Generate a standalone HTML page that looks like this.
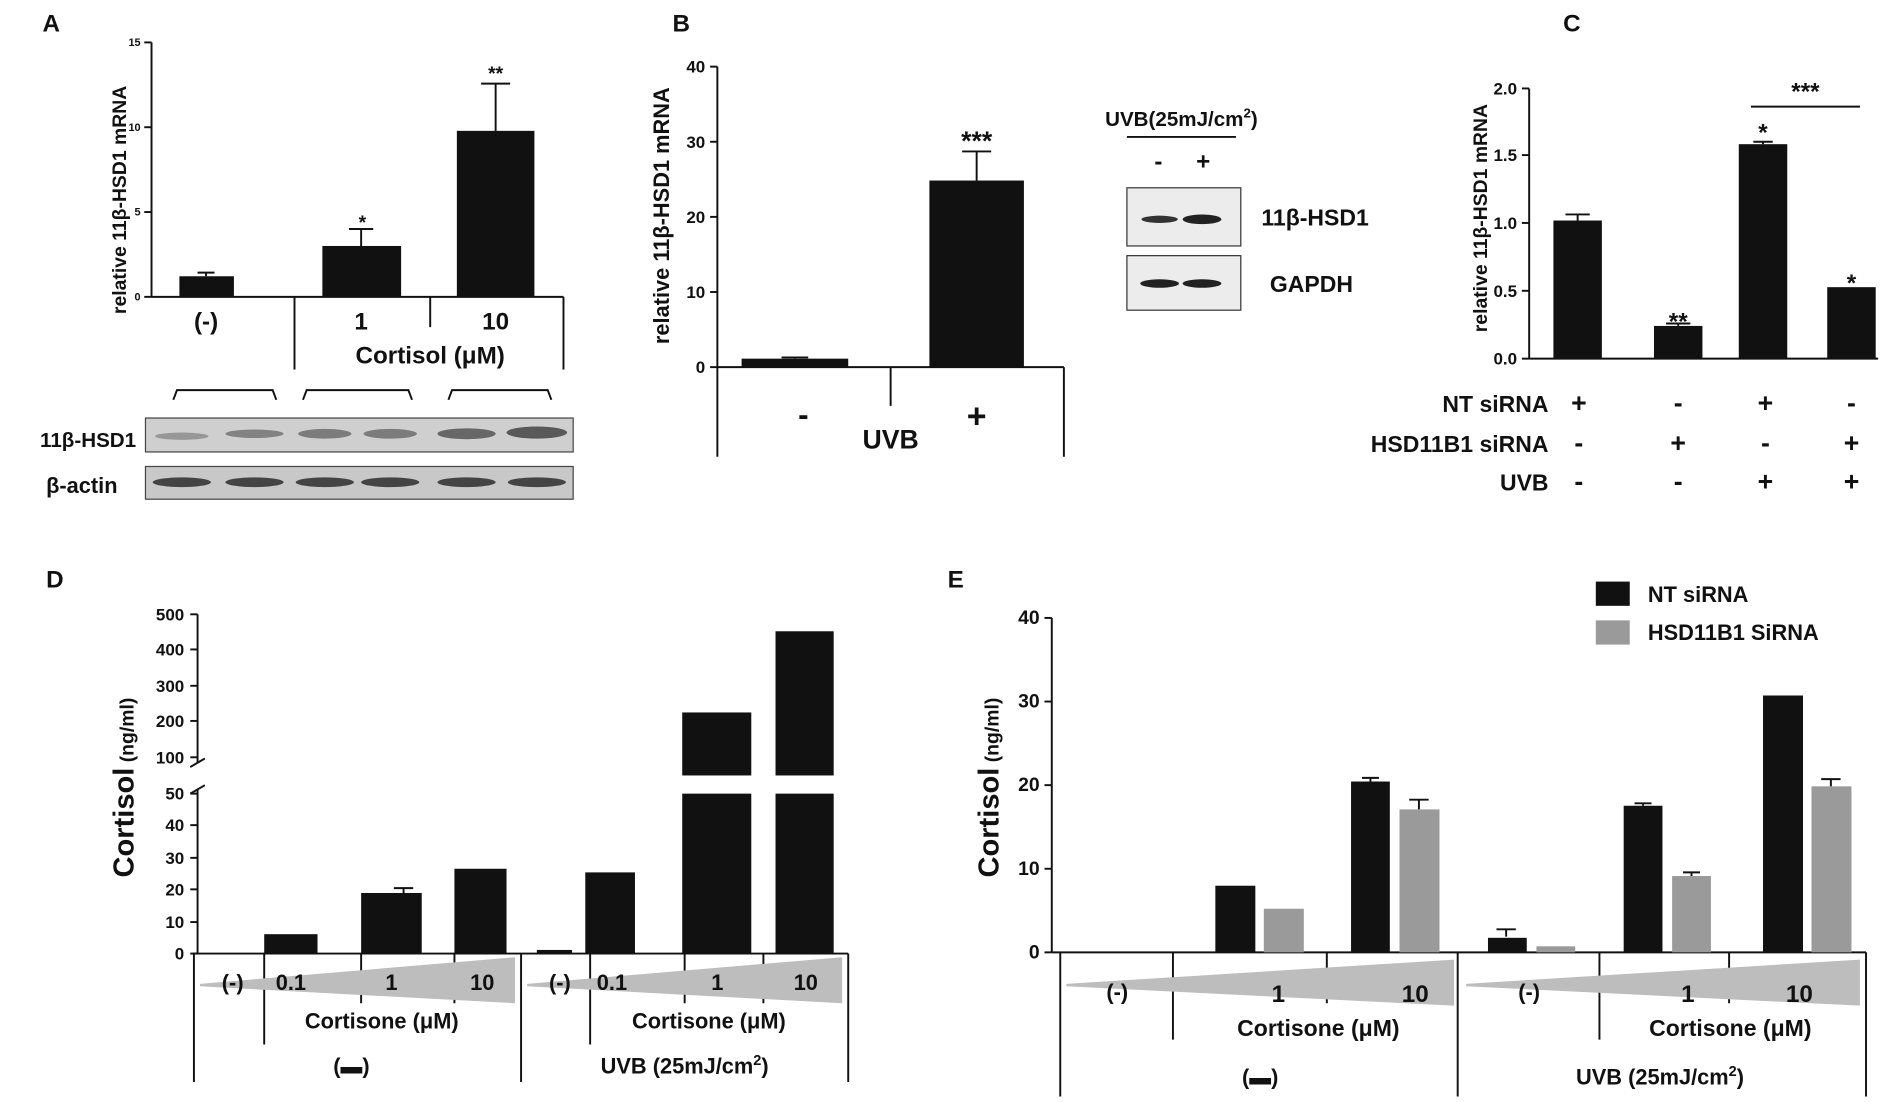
<!DOCTYPE html>
<html><head><meta charset="utf-8"><style>
html,body{margin:0;padding:0;background:#fff}
svg{display:block}
text{font-family:"Liberation Sans",Arial,sans-serif;font-weight:bold;fill:#111}
</style></head><body>
<svg width="1900" height="1102" viewBox="0 0 1568 909.5" xmlns="http://www.w3.org/2000/svg">
<g stroke="#111" stroke-width="1.6" fill="none">
<line x1="125" y1="35" x2="125" y2="245"/><line x1="125" y1="245" x2="465" y2="245"/>
<line x1="119" y1="35" x2="125" y2="35"/><line x1="119" y1="105" x2="125" y2="105"/><line x1="119" y1="175" x2="125" y2="175"/><line x1="119" y1="245" x2="125" y2="245"/>
<line x1="243" y1="245" x2="243" y2="305"/><line x1="355" y1="245" x2="355" y2="270"/><line x1="465" y1="245" x2="465" y2="305"/>
<path d="M143 330 L146 322 L225 322 L228 330"/><path d="M250 330 L253 322 L337 322 L340 330"/><path d="M370 330 L373 322 L452 322 L455 330"/>
<line x1="592" y1="55" x2="592" y2="377"/><line x1="592" y1="303" x2="878" y2="303"/><line x1="878" y1="303" x2="878" y2="377"/><line x1="735" y1="303" x2="735" y2="335"/>
<line x1="586" y1="55" x2="592" y2="55"/><line x1="586" y1="117" x2="592" y2="117"/><line x1="586" y1="179" x2="592" y2="179"/><line x1="586" y1="241" x2="592" y2="241"/><line x1="586" y1="303" x2="592" y2="303"/>
<line x1="930" y1="113" x2="1020" y2="113"/>
<line x1="1262" y1="73" x2="1262" y2="296"/><line x1="1262" y1="296" x2="1550" y2="296"/>
<line x1="1256" y1="73" x2="1262" y2="73"/><line x1="1256" y1="128" x2="1262" y2="128"/><line x1="1256" y1="184" x2="1262" y2="184"/><line x1="1256" y1="240" x2="1262" y2="240"/><line x1="1256" y1="296" x2="1262" y2="296"/>
<line x1="1445" y1="88" x2="1535" y2="88"/>
<line x1="163" y1="787" x2="163" y2="652"/><line x1="163" y1="630" x2="163" y2="507"/>
<line x1="157" y1="655" x2="169" y2="648"/><line x1="157" y1="633" x2="169" y2="626"/>
<line x1="160" y1="787" x2="700" y2="787"/>
<g>
<line x1="157" y1="787" x2="163" y2="787"/><line x1="157" y1="761" x2="163" y2="761"/><line x1="157" y1="734" x2="163" y2="734"/><line x1="157" y1="708" x2="163" y2="708"/><line x1="157" y1="681" x2="163" y2="681"/><line x1="157" y1="655" x2="163" y2="655"/>
<line x1="157" y1="625" x2="163" y2="625"/><line x1="157" y1="595" x2="163" y2="595"/><line x1="157" y1="566" x2="163" y2="566"/><line x1="157" y1="536" x2="163" y2="536"/><line x1="157" y1="507" x2="163" y2="507"/>
</g>
<line x1="160" y1="787" x2="160" y2="893"/><line x1="430" y1="787" x2="430" y2="893"/><line x1="700" y1="787" x2="700" y2="893"/>
<line x1="218" y1="787" x2="218" y2="862"/><line x1="298" y1="787" x2="298" y2="828"/><line x1="375" y1="787" x2="375" y2="828"/>
<line x1="487" y1="787" x2="487" y2="862"/><line x1="565" y1="787" x2="565" y2="828"/><line x1="630" y1="787" x2="630" y2="828"/>
<line x1="868" y1="510" x2="868" y2="786"/><line x1="868" y1="786" x2="1540" y2="786"/>
<line x1="862" y1="510" x2="868" y2="510"/><line x1="862" y1="579" x2="868" y2="579"/><line x1="862" y1="648" x2="868" y2="648"/><line x1="862" y1="717" x2="868" y2="717"/><line x1="862" y1="786" x2="868" y2="786"/>
<line x1="875" y1="786" x2="875" y2="905"/><line x1="1203" y1="786" x2="1203" y2="905"/><line x1="1540" y1="786" x2="1540" y2="905"/>
<line x1="968" y1="786" x2="968" y2="858"/><line x1="1095" y1="786" x2="1095" y2="828"/>
<line x1="1320" y1="786" x2="1320" y2="858"/><line x1="1427" y1="786" x2="1427" y2="828"/>
<path d="M170 228V225M163 225H177"/>
<path d="M298 203V189M288 189H308"/>
<path d="M409 108V69M397 69H421"/>
<path d="M656 296V295M645 295H667"/>
<path d="M806 149V125M794 125H818"/>
<path d="M1302 182V177M1292 177H1312"/>
<path d="M1385 269V267M1375 267H1395"/>
<path d="M1455 119V117M1447 117H1463"/>
<path d="M333 737V733M325 733H341"/>
<path d="M1243 773V767M1235 767H1251"/>
<path d="M1171 668V660M1163 660H1179"/>
<path d="M1511 649V643M1503 643H1519"/>
<path d="M1131 645V642M1124 642H1138"/>
<path d="M1396 723V720M1389 720H1403"/>
<path d="M1356 665V663M1349 663H1363"/>
</g>
<g fill="#111">
<rect x="148" y="228" width="45" height="17"/><rect x="266" y="203" width="65" height="42"/><rect x="377" y="108" width="64" height="137"/>
<rect x="612" y="296" width="88" height="7"/><rect x="767" y="149" width="78" height="154"/>
<rect x="1282" y="182" width="40" height="114"/><rect x="1365" y="269" width="40" height="27"/><rect x="1435" y="119" width="40" height="177"/><rect x="1508" y="237" width="40" height="59"/>
<rect x="218" y="771" width="44" height="16"/><rect x="298" y="737" width="50" height="50"/><rect x="375" y="717" width="43" height="70"/>
<rect x="443" y="784" width="29" height="3"/><rect x="483" y="720" width="41" height="67"/>
<rect x="563" y="655" width="57" height="132"/><rect x="563" y="588" width="57" height="52"/>
<rect x="640" y="655" width="48" height="132"/><rect x="640" y="521" width="48" height="119"/>
<rect x="1003" y="731" width="33" height="55"/><rect x="1115" y="645" width="32" height="141"/>
<rect x="1228" y="774" width="32" height="12"/><rect x="1340" y="665" width="32" height="121"/><rect x="1455" y="574" width="33" height="212"/>
<rect x="1317" y="480" width="28" height="20"/>
</g>
<g fill="#9a9a9a">
<rect x="1043" y="750" width="33" height="36"/><rect x="1155" y="668" width="33" height="118"/>
<rect x="1268" y="781" width="32" height="5"/><rect x="1380" y="723" width="32" height="63"/><rect x="1495" y="649" width="33" height="137"/>
<rect x="1317" y="512" width="28" height="20"/>
</g>
<g fill="#bdbdbd">
<polygon points="165,812 425,790 425,828 165,814"/>
<polygon points="435,812 695,790 695,828 435,814"/>
<polygon points="880,812 1200,792 1200,830 880,814"/>
<polygon points="1210,812 1535,792 1535,830 1210,814"/>
</g>
<rect x="120" y="345" width="353" height="28" fill="#cfcfcf" stroke="#444"/>
<rect x="120" y="385" width="353" height="27" fill="#c8c8c8" stroke="#444"/>
<g fill="#444">
<ellipse cx="150" cy="360" rx="22" ry="3" opacity=".4"/><ellipse cx="210" cy="358" rx="24" ry="3.5" opacity=".55"/>
<ellipse cx="268" cy="358" rx="22" ry="4" opacity=".6"/><ellipse cx="322" cy="358" rx="22" ry="4" opacity=".6"/>
<ellipse cx="385" cy="358" rx="24" ry="4.5" opacity=".75"/><ellipse cx="443" cy="357" rx="25" ry="5" opacity=".85"/>
<ellipse cx="150" cy="398" rx="24" ry="4"/><ellipse cx="210" cy="398" rx="24" ry="4"/><ellipse cx="268" cy="398" rx="24" ry="4"/><ellipse cx="322" cy="398" rx="24" ry="4"/><ellipse cx="385" cy="398" rx="24" ry="4"/><ellipse cx="443" cy="398" rx="24" ry="4"/>
</g>
<rect x="930" y="155" width="94" height="48" fill="#ececec" stroke="#333"/>
<rect x="930" y="211" width="94" height="45" fill="#ececec" stroke="#333"/>
<ellipse cx="957" cy="181" rx="15" ry="3" fill="#333"/><ellipse cx="992" cy="181" rx="16" ry="4" fill="#222"/>
<ellipse cx="957" cy="234" rx="16" ry="3.5" fill="#222"/><ellipse cx="992" cy="234" rx="16" ry="3.5" fill="#222"/>
<g font-size="20"><text x="35" y="26">A</text><text x="555" y="26">B</text><text x="1290" y="26">C</text><text x="38" y="485">D</text><text x="782" y="485">E</text></g>
<g font-size="9" text-anchor="end" font-weight="normal"><text x="116" y="38">15</text><text x="116" y="108">10</text><text x="116" y="178">5</text><text x="116" y="248">0</text></g>
<text transform="translate(104,165) rotate(-90)" font-size="16" text-anchor="middle">relative 11β-HSD1 mRNA</text>
<g font-size="20" text-anchor="middle"><text x="170" y="272">(-)</text><text x="298" y="272">1</text><text x="409" y="272">10</text><text x="355" y="300">Cortisol  (μM)</text></g>
<g font-size="16" text-anchor="middle"><text x="299" y="189">*</text><text x="409" y="66">**</text></g>
<text x="33" y="369" font-size="17">11β-HSD1</text><text x="38" y="407" font-size="18">β-actin</text>
<g font-size="14" text-anchor="end" font-weight="normal"><text x="582" y="60">40</text><text x="582" y="122">30</text><text x="582" y="184">20</text><text x="582" y="246">10</text><text x="582" y="308">0</text></g>
<text transform="translate(552,178) rotate(-90)" font-size="18" text-anchor="middle" font-weight="normal">relative 11β-HSD1 mRNA</text>
<g text-anchor="middle"><text x="806" y="124" font-size="22">***</text><text x="663" y="351" font-size="26">-</text><text x="806" y="353" font-size="28">+</text><text x="735" y="370" font-size="22" font-weight="normal">UVB</text>
<text x="975" y="104" font-size="17">UVB(25mJ/cm<tspan font-size="11" dy="-7">2</tspan><tspan dy="7">)</tspan></text>
<text x="956" y="140" font-size="20">-</text><text x="993" y="140" font-size="20">+</text></g>
<text x="1041" y="186" font-size="19">11β-HSD1</text><text x="1048" y="241" font-size="19">GAPDH</text>
<g font-size="14" text-anchor="end" font-weight="normal"><text x="1252" y="78">2.0</text><text x="1252" y="133">1.5</text><text x="1252" y="189">1.0</text><text x="1252" y="245">0.5</text><text x="1252" y="301">0.0</text></g>
<text transform="translate(1227,180) rotate(-90)" font-size="16" text-anchor="middle">relative 11β-HSD1 mRNA</text>
<g text-anchor="middle" font-size="20"><text x="1385" y="272">**</text><text x="1455" y="116">*</text><text x="1528" y="240">*</text><text x="1490" y="82">***</text></g>
<g font-size="19" text-anchor="end"><text x="1278" y="340">NT siRNA</text><text x="1278" y="373">HSD11B1 siRNA</text><text x="1278" y="405">UVB</text></g>
<g font-size="22" text-anchor="middle">
<text x="1303" y="340">+</text><text x="1385" y="340">-</text><text x="1457" y="340">+</text><text x="1528" y="340">-</text>
<text x="1303" y="373">-</text><text x="1385" y="373">+</text><text x="1457" y="373">-</text><text x="1528" y="373">+</text>
<text x="1303" y="405">-</text><text x="1385" y="405">-</text><text x="1457" y="405">+</text><text x="1528" y="405">+</text></g>
<g font-size="14" text-anchor="end" font-weight="normal"><text x="152" y="792">0</text><text x="152" y="766">10</text><text x="152" y="739">20</text><text x="152" y="713">30</text><text x="152" y="686">40</text><text x="152" y="660">50</text>
<text x="152" y="630">100</text><text x="152" y="600">200</text><text x="152" y="571">300</text><text x="152" y="541">400</text><text x="152" y="512">500</text></g>
<text transform="translate(110,650) rotate(-90)" text-anchor="middle"><tspan font-size="24">Cortisol</tspan><tspan font-size="16"> (ng/ml)</tspan></text>
<g font-size="18" text-anchor="middle"><text x="192" y="817">(-)</text><text x="240" y="817">0.1</text><text x="323" y="817">1</text><text x="398" y="817">10</text>
<text x="462" y="817">(-)</text><text x="505" y="817">0.1</text><text x="592" y="817">1</text><text x="665" y="817">10</text>
<text x="315" y="849">Cortisone (μM)</text><text x="585" y="849">Cortisone (μM)</text>
<text x="290" y="886">(▬)</text><text x="565" y="886">UVB (25mJ/cm<tspan font-size="12" dy="-7">2</tspan><tspan dy="7">)</tspan></text></g>
<g font-size="16" text-anchor="end" font-weight="normal"><text x="858" y="515">40</text><text x="858" y="584">30</text><text x="858" y="653">20</text><text x="858" y="722">10</text><text x="858" y="791">0</text></g>
<text transform="translate(824,650) rotate(-90)" text-anchor="middle"><tspan font-size="24">Cortisol</tspan><tspan font-size="16"> (ng/ml)</tspan></text>
<g font-size="18"><text x="1360" y="497">NT siRNA</text><text x="1360" y="528">HSD11B1 SiRNA</text></g>
<g text-anchor="middle"><text x="922" y="825" font-size="18">(-)</text><text x="1055" y="827" font-size="20">1</text><text x="1168" y="827" font-size="20">10</text>
<text x="1262" y="825" font-size="18">(-)</text><text x="1393" y="827" font-size="20">1</text><text x="1485" y="827" font-size="20">10</text>
<text x="1088" y="855" font-size="19">Cortisone (μM)</text><text x="1428" y="855" font-size="19">Cortisone (μM)</text>
<text x="1040" y="895" font-size="18">(▬)</text><text x="1370" y="895" font-size="18">UVB (25mJ/cm<tspan font-size="12" dy="-7">2</tspan><tspan dy="7">)</tspan></text></g>
</svg>
</body></html>
